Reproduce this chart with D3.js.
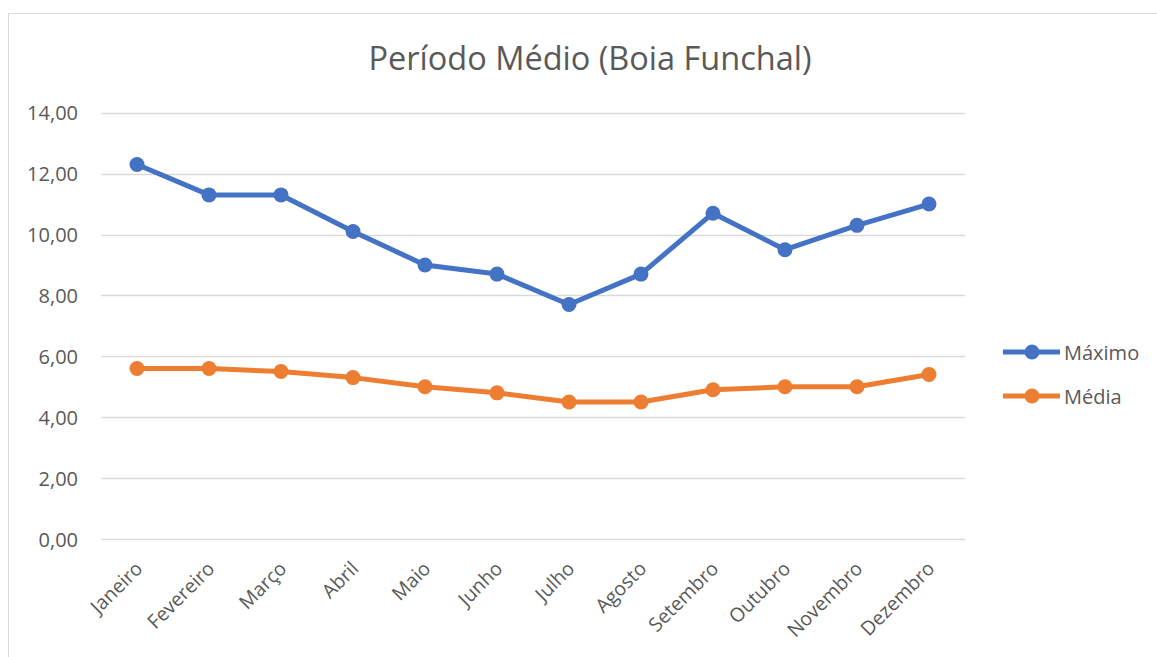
<!DOCTYPE html>
<html>
<head>
<meta charset="utf-8">
<script src="https://cdn.jsdelivr.net/npm/d3@7"></script>
<style>
  html, body { margin: 0; padding: 0; background: #fff; }
  svg { display: block; }
</style>
</head>
<body>
<svg id="chart" width="1157" height="657"></svg>
<script>
const categories = ["Janeiro","Fevereiro","Março","Abril","Maio","Junho","Julho","Agosto","Setembro","Outubro","Novembro","Dezembro"];
const maximo = [12.3, 11.3, 11.3, 10.1, 9.0, 8.7, 7.7, 8.7, 10.7, 9.5, 10.3, 11.0];
const media  = [5.6, 5.6, 5.5, 5.3, 5.0, 4.8, 4.5, 4.5, 4.9, 5.0, 5.0, 5.4];
const yTicks = [0, 2, 4, 6, 8, 10, 12, 14];
const seriesNames = ["Máximo", "Média"];
const seriesColors = ["#4472C4", "#ED7D31"];
const title = "Período Médio (Boia Funchal)";

const svg = d3.select("#chart");
const font = "'Open Sans', 'Noto Sans', sans-serif";

// chart border
svg.append("rect").attr("x", 8.5).attr("y", 13.5).attr("width", 1170).attr("height", 660)
  .attr("fill", "#fff").attr("stroke", "#D9D9D9").attr("stroke-width", 1);

const x = d3.scaleBand().domain(categories).range([101, 965]);
const y = d3.scaleLinear().domain([0, 14]).range([539, 112.7]);

// gridlines
svg.append("g").selectAll("line").data(yTicks).join("line")
  .attr("x1", 101).attr("x2", 965)
  .attr("y1", d => Math.round(y(d)) + 0.5).attr("y2", d => Math.round(y(d)) + 0.5)
  .attr("stroke", "#D9D9D9").attr("stroke-width", 1.3);

// y axis labels
const yAxis = d3.axisLeft(y).tickValues(yTicks).tickSize(0).tickPadding(0)
  .tickFormat(d => d3.format(".2f")(d).replace(".", ","));
const gy = svg.append("g").attr("transform", "translate(78,0)").call(yAxis);
gy.select(".domain").remove();
gy.selectAll("text").attr("fill", "#595959").attr("font-size", 20).attr("font-family", font)
  .attr("dy", "0.36em");

// x axis labels
const xAxis = d3.axisBottom(x).tickSize(0).tickPadding(0);
const gx = svg.append("g").attr("transform", "translate(0,548)").call(xAxis);
gx.select(".domain").remove();
gx.selectAll("text")
  .attr("fill", "#595959").attr("font-size", 19.5).attr("font-family", font)
  .attr("text-anchor", "end").attr("dy", "0.35em")
  .attr("transform", "translate(2,17) rotate(-45)");

// title
svg.append("text").attr("x", 590).attr("y", 70).attr("text-anchor", "middle")
  .attr("font-size", 32.5).attr("font-family", font)
  .attr("fill", "#595959").text(title);

// series
const data = [maximo, media];
const line = d3.line().x((d, i) => x(categories[i]) + x.bandwidth() / 2).y(d => y(d));
data.forEach((vals, si) => {
  const g = svg.append("g");
  g.append("path").datum(vals).attr("d", line).attr("fill", "none")
    .attr("stroke", seriesColors[si]).attr("stroke-width", 5).attr("stroke-linejoin", "round");
  g.selectAll("circle").data(vals).join("circle")
    .attr("cx", (d, i) => x(categories[i]) + x.bandwidth() / 2).attr("cy", d => y(d))
    .attr("r", 7.5).attr("fill", seriesColors[si]);
});

// legend
const legend = svg.append("g");
seriesNames.forEach((name, i) => {
  const ly = 352 + i * 44;
  legend.append("line").attr("x1", 1003).attr("x2", 1060).attr("y1", ly).attr("y2", ly)
    .attr("stroke", seriesColors[i]).attr("stroke-width", 5);
  legend.append("circle").attr("cx", 1032).attr("cy", ly).attr("r", 7.5).attr("fill", seriesColors[i]);
  legend.append("text").attr("x", 1064).attr("y", ly).attr("dy", "0.38em")
    .attr("font-size", 20).attr("font-family", font).attr("fill", "#595959").text(name);
});
</script>
</body>
</html>
